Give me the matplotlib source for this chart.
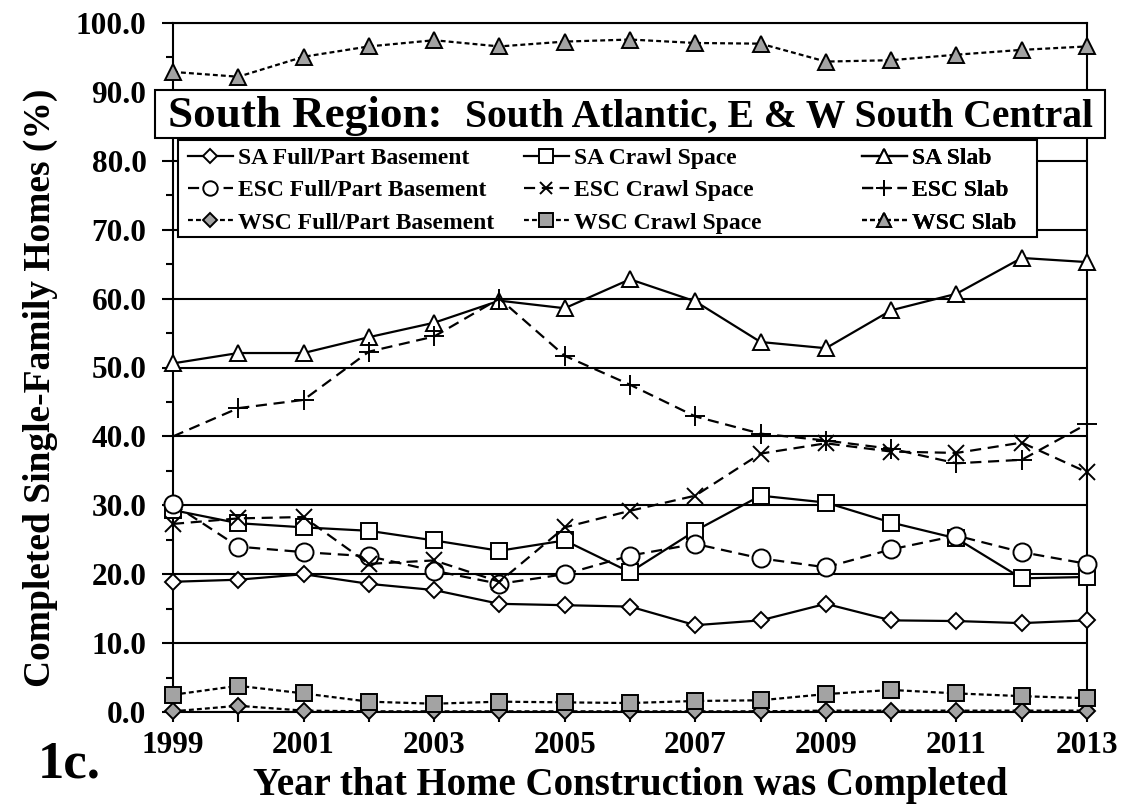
import matplotlib
matplotlib.use("Agg")
import matplotlib.pyplot as plt
from matplotlib.patches import Rectangle

plt.rcParams["font.family"] = ["Liberation Serif", "DejaVu Serif"]
plt.rcParams["font.weight"] = "bold"

years = list(range(1999, 2014))
year_labels = [str(y) if y % 2 == 1 else "" for y in years]
y_ticks = [0, 10, 20, 30, 40, 50, 60, 70, 80, 90, 100]
y_tick_labels = [f"{v:.1f}" for v in y_ticks]

# South Atlantic
sa_base = [18.9, 19.2, 20.0, 18.6, 17.7, 15.7, 15.5, 15.3, 12.6, 13.3, 15.7, 13.3, 13.2, 12.9, 13.3]
sa_crawl = [29.3, 27.4, 26.8, 26.3, 24.9, 23.4, 24.9, 20.3, 26.3, 31.4, 30.4, 27.5, 25.2, 19.4, 19.6]
sa_slab = [50.6, 52.1, 52.1, 54.4, 56.5, 59.7, 58.6, 62.8, 59.6, 53.7, 52.8, 58.3, 60.7, 65.9, 65.3]

# East South Central
esc_base = [30.2, 24.0, 23.2, 22.6, 20.5, 18.6, 20.0, 22.7, 24.4, 22.3, 21.0, 23.6, 25.6, 23.2, 21.5]
esc_crawl = [27.3, 28.1, 28.3, 21.5, 22.0, 18.9, 26.8, 29.2, 31.4, 37.5, 39.0, 37.8, 37.6, 39.1, 34.8]
esc_slab = [40.0, 44.1, 45.3, 52.3, 54.5, 60.0, 51.7, 47.5, 42.9, 40.4, 39.4, 38.2, 36.1, 36.6, 41.8]

# West South Central
wsc_base = [0.1, 0.9, 0.2, 0.1, 0.1, 0.1, 0.1, 0.1, 0.1, 0.1, 0.2, 0.2, 0.2, 0.2, 0.2]
wsc_crawl = [2.5, 3.8, 2.7, 1.5, 1.2, 1.5, 1.4, 1.3, 1.6, 1.7, 2.6, 3.2, 2.7, 2.3, 2.0]
wsc_slab = [92.9, 92.2, 95.1, 96.6, 97.5, 96.6, 97.3, 97.6, 97.1, 97.0, 94.4, 94.6, 95.4, 96.1, 96.6]

GRAY = "#a3a3a3"
ESC_DASH = (5, 3)
WSC_DASH = (2.2, 1.4)

fig = plt.figure(figsize=(11.48, 8.07), dpi=100)
ax = fig.add_axes([173 / 1148, 95 / 807, 914 / 1148, 689 / 807])

common = dict(color="black", linewidth=1.6, markeredgecolor="black",
              markeredgewidth=1.4, clip_on=False, zorder=3)

series = [
    (sa_base, "SA Full/Part Basement", "D", 8.5, "white", None),
    (sa_crawl, "SA Crawl Space", "s", 12, "white", None),
    (sa_slab, "SA Slab", "^", 12, "white", None),
    (esc_base, "ESC Full/Part Basement", "o", 13, "white", ESC_DASH),
    (esc_crawl, "ESC Crawl Space", "x", 11, "white", ESC_DASH),
    (esc_slab, "ESC Slab", "+", 14, "white", ESC_DASH),
    (wsc_base, "WSC Full/Part Basement", "D", 8.5, GRAY, WSC_DASH),
    (wsc_crawl, "WSC Crawl Space", "s", 12, GRAY, WSC_DASH),
    (wsc_slab, "WSC Slab", "^", 12, GRAY, WSC_DASH),
]

handles = []
for vals, label, mk, ms, fill, dash in series:
    line, = ax.plot(years, vals, marker=mk, markersize=ms,
                    markerfacecolor=fill, label=label, **common)
    if dash is not None:
        line.set_dashes(dash)
    handles.append(line)

# axes, grid, ticks
ax.set_xlim(1999, 2013)
ax.set_ylim(0, 100)
ax.set_yticks(y_ticks)
ax.set_yticklabels(y_tick_labels)
ax.set_yticks([5, 15, 25, 35, 45, 55, 65, 75, 85, 95], minor=True)
ax.set_xticks(years)
ax.set_xticklabels(year_labels)
ax.yaxis.grid(True, color="black", linewidth=1.5)
ax.set_axisbelow(True)
for sp in ax.spines.values():
    sp.set_linewidth(1.5)
ax.tick_params(axis="y", which="major", direction="out", length=8, width=1.5,
               labelsize=22.5, pad=11)
ax.tick_params(axis="y", which="minor", direction="out", length=5, width=1.5)
ax.tick_params(axis="x", direction="out", length=7, width=1.5,
               labelsize=22.5, pad=7)

ax.set_xlabel("Year that Home Construction was Completed", fontsize=28,
              fontweight="bold", labelpad=5)
fig.text(40 / 1148, 0.519, "Completed Single-Family Homes (%)", rotation=90,
         ha="center", va="center", fontsize=27, fontweight="bold")
fig.text(38 / 1148, 0.036, "1c.", fontsize=38, fontweight="bold",
         ha="left", va="baseline")

# legend box with three columns
ax.add_patch(Rectangle((5 / 914, 68.9 / 100), 859 / 914, 14.1 / 100,
                       transform=ax.transAxes, facecolor="white",
                       edgecolor="black", linewidth=1.5, zorder=4))
col_x = [15 / 914, 351 / 914, 689 / 914]
for i in range(3):
    col = [handles[i], handles[i + 3], handles[i + 6]]
    leg = ax.legend(handles=col, loc="upper left",
                    bbox_to_anchor=(col_x[i], 0.819), frameon=False,
                    fontsize=17, handlelength=1.9, handletextpad=0.2,
                    labelspacing=0.45, borderpad=0, borderaxespad=0,
                    numpoints=1, markerscale=0.8)
    leg.set_zorder(5)
    ax.add_artist(leg)

# region title box
fig.add_artist(Rectangle((155 / 1148, 669 / 807), 950 / 1148, 48 / 807,
                         transform=fig.transFigure, facecolor="white",
                         edgecolor="black", linewidth=1.5, zorder=5))
fig.text(168 / 1148, 680 / 807, "South Region:", fontsize=32.5,
         fontweight="bold", ha="left", va="baseline", zorder=6)
fig.text(1093 / 1148, 680 / 807, "South Atlantic, E & W South Central",
         fontsize=28.5, fontweight="bold", ha="right", va="baseline", zorder=6)

fig.savefig("out.png", dpi=100)
